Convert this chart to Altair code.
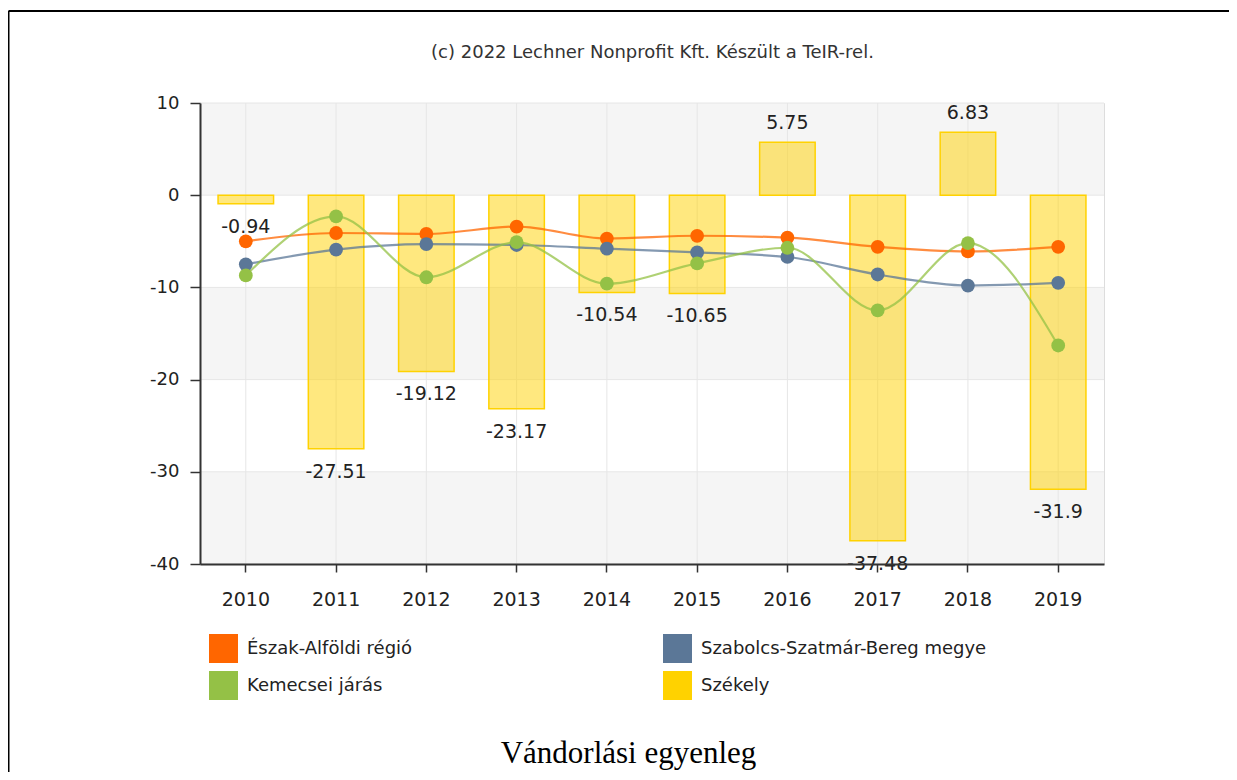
import altair as alt
import pandas as pd

# ---------------- data ----------------
years = ["2010", "2011", "2012", "2013", "2014", "2015", "2016", "2017", "2018", "2019"]
series_names = ["Észak-Alföldi régió", "Szabolcs-Szatmár-Bereg megye", "Kemecsei járás", "Székely"]
series_colors = ["#ff6600", "#5b7797", "#94c146", "#ffd200"]

eszak_alfold = [-5.0, -4.1, -4.2, -3.4, -4.7, -4.4, -4.6, -5.6, -6.1, -5.6]
szabolcs = [-7.5, -5.9, -5.3, -5.4, -5.8, -6.2, -6.7, -8.6, -9.8, -9.5]
kemecsei = [-8.7, -2.3, -8.9, -5.1, -9.6, -7.4, -5.7, -12.5, -5.2, -16.3]
szekely = [-0.94, -27.51, -19.12, -23.17, -10.54, -10.65, 5.75, -37.48, 6.83, -31.9]

y_ticks = [-40, -30, -20, -10, 0, 10]

copyright_text = "(c) 2022 Lechner Nonprofit Kft. Készült a TeIR-rel."
bottom_title = "Vándorlási egyenleg"

# ---------------- tables ----------------
line_df = pd.DataFrame({
    "year": years * 3,
    "series": [series_names[0]] * len(years) + [series_names[1]] * len(years) + [series_names[2]] * len(years),
    "v": eszak_alfold + szabolcs + kemecsei,
})
bar_df = pd.DataFrame({"year": years, "v": szekely, "label": [str(v) for v in szekely]})
desc_ticks = sorted(y_ticks, reverse=True)
band_df = pd.DataFrame({"v": desc_ticks[0::2], "v2": desc_ticks[1::2]})
ytick_df = pd.DataFrame({"v": y_ticks})
legend_df = pd.DataFrame({"series": series_names, "year": [years[0]] * 4, "v": [1000] * 4})
one_df = pd.DataFrame({"a": [0]})

W, H = 904, 461
FONT = "DejaVu Sans"

xscale = alt.Scale(domain=years, paddingInner=0.385, paddingOuter=0.2)
yscale = alt.Scale(domain=[-40, 10], nice=False)
cscale = alt.Scale(domain=series_names, range=series_colors)

xaxis = alt.Axis(title=None, labelAngle=0, grid=False, domainColor="#333333", domainWidth=2,
                 tickColor="#333333", tickWidth=1.5, tickSize=8, labelFontSize=19,
                 labelColor="#222222", labelPadding=18, labelFont=FONT, zindex=1)
yaxis = alt.Axis(title=None, values=y_ticks, grid=False, domainColor="#333333", domainWidth=2,
                 tickColor="#333333", tickWidth=1.5, tickSize=10, labelFontSize=18,
                 labelColor="#222222", labelPadding=11, labelFont=FONT, zindex=1,
                 labelExpr="toString(datum.value)")

X = alt.X("year:N", scale=xscale, axis=xaxis, bandPosition=0.5)
Xbar = alt.X("year:N", scale=xscale, axis=xaxis)
Y = alt.Y("v:Q", scale=yscale, axis=yaxis)

bands = alt.Chart(band_df).mark_rect(color="#f5f5f5").encode(
    x=alt.value(0), x2=alt.value(W), y=Y, y2="v2:Q")

ygrid = alt.Chart(ytick_df).mark_rule(color="#e6e6e6", strokeWidth=1).encode(y=Y)
xgrid = alt.Chart(bar_df).mark_rule(color="#e6e6e6", strokeWidth=1).encode(x=X)

bars = alt.Chart(bar_df).mark_bar(fill="#ffd200", fillOpacity=0.5, stroke="#ffd200",
                                  strokeWidth=1.5).encode(x=Xbar, y=Y)

lines = alt.Chart(line_df).mark_line(interpolate="monotone", strokeWidth=2.2, opacity=0.75).encode(
    x=X, y=Y, color=alt.Color("series:N", scale=cscale, legend=None))
points = alt.Chart(line_df).mark_circle(size=190, opacity=1).encode(
    x=X, y=Y, color=alt.Color("series:N", scale=cscale, legend=None))

neg_labels = alt.Chart(bar_df).transform_filter("datum.v < 0").mark_text(
    dy=23, baseline="middle", align="center", fontSize=19, color="#222222", font=FONT
).encode(x=X, y=Y, text="label:N")
pos_labels = alt.Chart(bar_df).transform_filter("datum.v >= 0").mark_text(
    dy=-19, baseline="middle", align="center", fontSize=19, color="#222222", font=FONT
).encode(x=X, y=Y, text="label:N")

legend_layer = alt.Chart(legend_df).mark_square(size=841, opacity=1, clip=True).encode(
    x=X, y=Y,
    color=alt.Color("series:N", scale=cscale, legend=alt.Legend(
        title=None, orient="none", legendX=9, legendY=531, direction="horizontal", columns=2,
        symbolType="square", symbolSize=841, symbolStrokeWidth=0, symbolOpacity=1,
        labelFontSize=18, labelFont=FONT, labelColor="#222222", labelOffset=9,
        labelLimit=400, rowPadding=8, columnPadding=250, padding=0)))

frame_v = alt.Chart(one_df).mark_rule(color="black", strokeWidth=2).encode(
    x=alt.value(-191.5), y=alt.value(-92), y2=alt.value(700))
frame_h = alt.Chart(one_df).mark_rule(color="black", strokeWidth=2).encode(
    x=alt.value(-191.5), x2=alt.value(1100), y=alt.value(-92))

title_top = alt.Chart(one_df).mark_text(
    text=copyright_text, fontSize=18, font=FONT, color="#333333", align="center", baseline="middle"
).encode(x=alt.value(452.5), y=alt.value(-50))
title_bottom = alt.Chart(one_df).mark_text(
    text=bottom_title, fontSize=31, font="Liberation Serif", color="#000000", align="center",
    baseline="alphabetic"
).encode(x=alt.value(428.5), y=alt.value(660))

chart = alt.layer(
    bands, ygrid, xgrid, bars, lines, points, neg_labels, pos_labels, legend_layer,
    frame_v, frame_h, title_top, title_bottom
).resolve_scale(color="independent").properties(
    width=W, height=H,
    autosize=alt.AutoSizeParams(type="none"),
    padding={"left": 192, "top": 95, "right": 125, "bottom": 208},
    background="white",
).configure_view(stroke=None).configure(font=FONT)

chart.save("out.html", embed_options={"renderer": "svg", "actions": False})
